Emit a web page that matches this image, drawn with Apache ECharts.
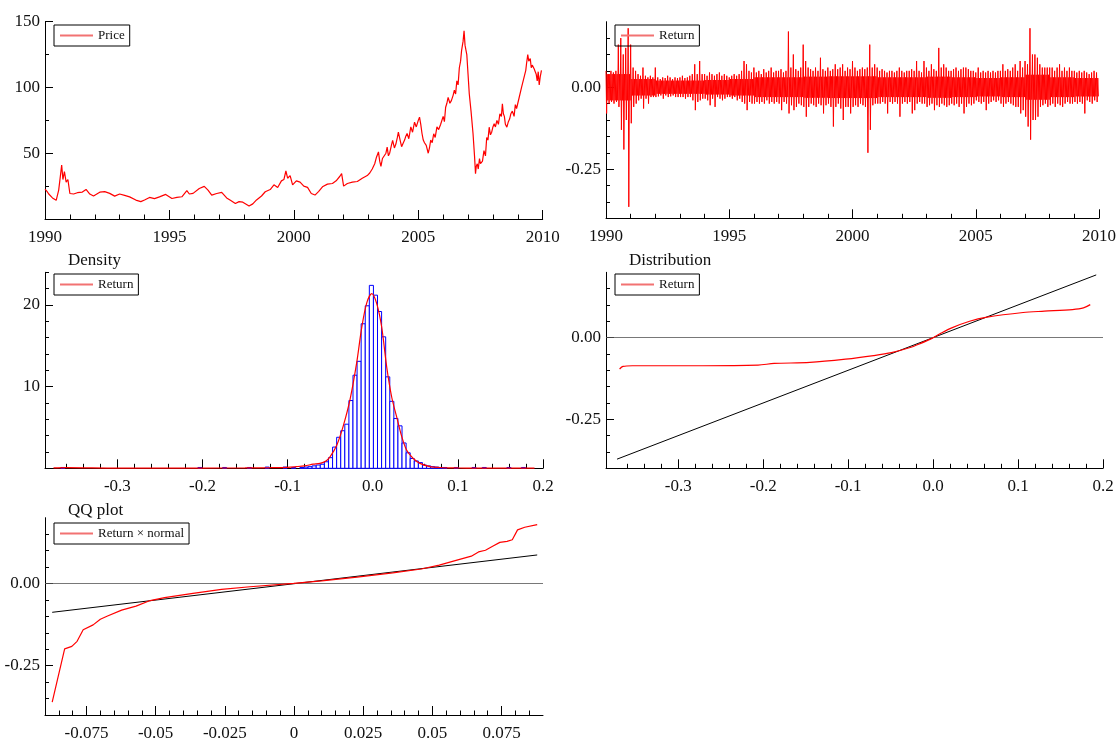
<!DOCTYPE html>
<html>
<head>
<meta charset="utf-8">
<script src="https://cdn.jsdelivr.net/npm/echarts@6/dist/echarts.min.js"></script>
<style>
html,body{margin:0;padding:0;background:#fff;}
#chart{width:1119px;height:742px;}
</style>
</head>
<body>
<div id="chart"></div>
<script>
const FONT = 'Liberation Serif';

// ---------- Price (top-left) ----------
const priceYears = [1990.00,1990.08,1990.15,1990.30,1990.45,1990.55,1990.62,1990.67,1990.72,1990.78,1990.85,1990.92,1991.00,1991.15,1991.30,1991.50,1991.65,1991.80,1991.95,1992.20,1992.40,1992.60,1992.80,1993.00,1993.20,1993.40,1993.65,1993.85,1994.00,1994.20,1994.40,1994.60,1994.85,1995.10,1995.30,1995.50,1995.70,1995.80,1995.95,1996.20,1996.40,1996.55,1996.70,1996.90,1997.10,1997.30,1997.45,1997.65,1997.80,1997.95,1998.10,1998.20,1998.35,1998.50,1998.70,1998.85,1999.05,1999.20,1999.35,1999.50,1999.60,1999.68,1999.75,1999.85,1999.95,2000.10,2000.25,2000.40,2000.55,2000.70,2000.85,2001.00,2001.15,2001.35,2001.55,2001.70,2001.85,2001.92,2002.00,2002.15,2002.35,2002.55,2002.75,2002.95,2003.05,2003.15,2003.25,2003.32,2003.40,2003.45,2003.50,2003.56,2003.62,2003.70,2003.75,2003.80,2003.85,2003.92,2003.97,2004.04,2004.10,2004.16,2004.20,2004.27,2004.33,2004.40,2004.45,2004.50,2004.55,2004.62,2004.70,2004.77,2004.85,2004.92,2005.00,2005.05,2005.10,2005.15,2005.20,2005.25,2005.32,2005.40,2005.45,2005.50,2005.56,2005.62,2005.68,2005.75,2005.82,2005.90,2006.00,2006.05,2006.10,2006.15,2006.20,2006.27,2006.33,2006.40,2006.45,2006.50,2006.55,2006.60,2006.65,2006.70,2006.74,2006.80,2006.84,2006.88,2006.95,2007.00,2007.05,2007.12,2007.20,2007.26,2007.30,2007.33,2007.37,2007.41,2007.46,2007.50,2007.58,2007.64,2007.70,2007.75,2007.80,2007.85,2007.90,2007.95,2008.00,2008.05,2008.10,2008.16,2008.22,2008.28,2008.34,2008.38,2008.42,2008.46,2008.50,2008.56,2008.62,2008.67,2008.72,2008.78,2008.85,2008.90,2008.95,2009.05,2009.15,2009.25,2009.32,2009.35,2009.40,2009.44,2009.50,2009.54,2009.58,2009.62,2009.66,2009.70,2009.74,2009.78,2009.82,2009.86,2009.90,2009.95];
const priceValues = [22.7,21,19,16,14.2,22,33,41,30,36,28,30,19.4,19,20,20.5,22.5,19,17.5,20.4,20.8,19.5,17.4,19,18,16.8,14.4,13.2,14.5,16.4,15.5,16.8,18.7,15.6,16.5,16.9,21.5,19,19.5,23.2,24.8,22,18.2,19.4,20.2,16,14.2,11.8,13.2,12.8,11,9.8,11.5,14.5,17.5,20.7,22.4,26,24,29,30,36.5,31,33,26,29,28,25,24,19.4,18.2,21,24.5,26.5,27,29,32.5,34.5,25,27,28,28.5,31,33,35,38,42,47,51,44,40,46,45,50,54.7,48,50,56,59.7,54,57,62,66,60,55,58,60,63,65,61,70,66,73.6,70,75,77.4,72,65,60,58,56,50,54,60,58,64.8,62,70,68,72,78,74,85,88,92.5,88,90,94,98,95,105,102,115,120,128,135,143,132,125,110,95,82,65,48,34.5,40,42,38,45.9,42,44,52,48,62,60,69.8,64,66,70,72.4,70,75,72,80,78,87.5,80,78,72,69.8,74,76,80,82,78,87,84,92,100,107.6,113,118,125,120,122,115,117,118,114,112,110,105,112,102,108,113,110,107];

// ---------- Return (top-right): envelope per 0.1 year, 1990.0 .. 2009.9 ----------
const RET_START = 1990, RET_STEP = 0.1;
const retHigh = [
  0.05,0.04,0.05,0.045,0.05,0.13,0.15,0.10,0.12,0.18,
  0.13,0.06,0.05,0.04,0.035,0.06,0.035,0.03,0.035,0.03,
  0.06,0.03,0.025,0.03,0.028,0.035,0.03,0.025,0.03,0.028,
  0.03,0.035,0.028,0.03,0.035,0.04,0.07,0.04,0.08,0.04,
  0.04,0.035,0.045,0.04,0.035,0.04,0.045,0.035,0.04,0.035,
  0.03,0.035,0.04,0.035,0.04,0.05,0.08,0.07,0.05,0.045,
  0.06,0.045,0.05,0.04,0.055,0.045,0.05,0.06,0.045,0.05,
  0.05,0.055,0.045,0.05,0.17,0.06,0.10,0.055,0.05,0.06,
  0.13,0.08,0.06,0.055,0.05,0.06,0.05,0.09,0.055,0.05,
  0.06,0.05,0.055,0.07,0.055,0.06,0.07,0.05,0.06,0.055,
  0.08,0.06,0.05,0.055,0.06,0.055,0.06,0.13,0.06,0.07,
  0.06,0.05,0.055,0.05,0.045,0.05,0.05,0.045,0.05,0.06,
  0.05,0.045,0.05,0.05,0.055,0.05,0.08,0.05,0.045,0.08,
  0.06,0.05,0.07,0.055,0.05,0.12,0.06,0.07,0.06,0.05,
  0.05,0.055,0.06,0.05,0.055,0.06,0.06,0.055,0.05,0.05,
  0.045,0.06,0.045,0.05,0.045,0.05,0.045,0.05,0.045,0.05,
  0.05,0.07,0.05,0.055,0.05,0.06,0.07,0.05,0.08,0.06,
  0.08,0.07,0.18,0.10,0.10,0.09,0.07,0.06,0.06,0.06,
  0.06,0.06,0.05,0.06,0.07,0.05,0.06,0.05,0.06,0.05,
  0.05,0.045,0.05,0.045,0.05,0.045,0.04,0.045,0.05,0.045];
const retLow = [
  -0.08,-0.05,-0.045,-0.05,-0.045,-0.06,-0.13,-0.19,-0.10,-0.365,
  -0.11,-0.06,-0.05,-0.04,-0.035,-0.065,-0.035,-0.05,-0.03,-0.03,
  -0.03,-0.028,-0.025,-0.035,-0.025,-0.03,-0.028,-0.025,-0.03,-0.03,
  -0.03,-0.03,-0.035,-0.03,-0.03,-0.04,-0.07,-0.045,-0.04,-0.035,
  -0.035,-0.04,-0.055,-0.035,-0.06,-0.03,-0.035,-0.04,-0.035,-0.03,
  -0.03,-0.035,-0.03,-0.04,-0.035,-0.045,-0.05,-0.07,-0.045,-0.05,
  -0.05,-0.045,-0.05,-0.045,-0.05,-0.04,-0.05,-0.045,-0.05,-0.045,
  -0.05,-0.07,-0.045,-0.05,-0.08,-0.055,-0.07,-0.06,-0.05,-0.055,
  -0.06,-0.09,-0.06,-0.05,-0.055,-0.06,-0.05,-0.055,-0.08,-0.055,
  -0.05,-0.06,-0.12,-0.06,-0.05,-0.065,-0.10,-0.06,-0.06,-0.08,
  -0.06,-0.055,-0.06,-0.05,-0.055,-0.06,-0.20,-0.13,-0.055,-0.05,
  -0.05,-0.05,-0.045,-0.05,-0.08,-0.045,-0.05,-0.045,-0.05,-0.09,
  -0.05,-0.045,-0.05,-0.045,-0.08,-0.07,-0.05,-0.045,-0.05,-0.05,
  -0.06,-0.055,-0.05,-0.07,-0.055,-0.06,-0.05,-0.055,-0.06,-0.055,
  -0.05,-0.055,-0.05,-0.06,-0.05,-0.08,-0.06,-0.05,-0.055,-0.05,
  -0.04,-0.045,-0.05,-0.045,-0.07,-0.05,-0.045,-0.04,-0.045,-0.04,
  -0.05,-0.06,-0.05,-0.045,-0.05,-0.055,-0.06,-0.06,-0.08,-0.07,
  -0.09,-0.12,-0.16,-0.10,-0.10,-0.09,-0.06,-0.055,-0.05,-0.06,
  -0.055,-0.05,-0.06,-0.05,-0.055,-0.06,-0.05,-0.045,-0.05,-0.05,
  -0.045,-0.05,-0.045,-0.05,-0.08,-0.04,-0.045,-0.05,-0.04,-0.045];
// dense core of the band, per year 1990 .. 2009
const retCoreHigh = [0.04,0.025,0.02,0.02,0.022,0.025,0.03,0.03,0.032,0.033,0.033,0.03,0.03,0.032,0.03,0.028,0.03,0.038,0.03,0.028];
const retCoreLow = [-0.04,-0.025,-0.02,-0.02,-0.022,-0.025,-0.03,-0.03,-0.032,-0.033,-0.033,-0.03,-0.03,-0.032,-0.03,-0.028,-0.03,-0.038,-0.03,-0.028];

// ---------- Density (middle-left) ----------
const HIST_BIN = 0.0048;
const histCenters = [-0.364,-0.203,-0.174,-0.145,-0.124,-0.103,-0.093,
  -0.0832,-0.0784,-0.0736,-0.0688,-0.064,-0.0592,-0.0544,-0.0496,-0.0448,-0.04,-0.0352,-0.0304,-0.0256,-0.0208,-0.016,-0.0112,-0.0064,-0.0016,
  0.0032,0.008,0.0128,0.0176,0.0224,0.0272,0.032,0.0368,0.0416,0.0464,0.0512,0.056,0.0608,0.0656,0.0704,0.0752,0.08,0.0848,
  0.098,0.119,0.131,0.16,0.177];
const histHeights = [0.1,0.1,0.1,0.1,0.15,0.15,0.1,
  0.1,0.15,0.2,0.3,0.4,0.5,0.8,1.3,2.6,3.8,4.6,5.4,8.3,11.4,13.1,17.7,19.9,22.4,
  21.2,19.2,16.1,11.2,8.2,6.1,5.2,3.1,1.9,1.2,0.9,0.7,0.4,0.3,0.2,0.15,0.1,0.1,
  0.1,0.1,0.1,0.1,0.1];
const kdeX = [-0.375,-0.36,-0.3,-0.2,-0.15,-0.12,-0.1,-0.09,-0.08,-0.07,-0.062,-0.055,-0.0502,-0.0424,-0.0346,-0.0267,-0.0189,-0.013,-0.0072,-0.0012,0.0046,0.0105,0.0164,0.0223,0.0281,0.034,0.0399,0.0476,0.0555,0.0673,0.079,0.09,0.1,0.12,0.15,0.19];
const kdeY = [0.05,0.08,0.01,0.03,0.05,0.08,0.12,0.2,0.3,0.5,0.6,0.9,1.4,2.8,5.2,8.4,12.9,17.2,20.2,21.4,20.2,17.3,12.4,8.7,6.3,3.9,2.2,1.2,0.6,0.2,0.1,0.06,0.04,0.03,0.02,0.02];

// ---------- Distribution (middle-right) ----------
const distX = [-0.369,-0.365,-0.354,-0.271,-0.206,-0.187,-0.145,-0.103,-0.07,-0.049,-0.028,-0.016,-0.002,0.0096,0.022,0.043,0.062,0.106,0.131,0.164,0.177,0.185];
const distY = [-0.096,-0.088,-0.086,-0.086,-0.084,-0.079,-0.076,-0.066,-0.055,-0.046,-0.031,-0.019,-0.003,0.014,0.030,0.050,0.062,0.077,0.081,0.086,0.091,0.101];
const distRefX = [-0.372, 0.192];
const distRefY = [-0.372, 0.192];

// ---------- QQ plot (bottom-left) ----------
const qqX = [-0.0874,-0.0829,-0.0803,-0.0784,-0.0762,-0.0726,-0.07,-0.0674,-0.0623,-0.0571,-0.052,-0.0468,-0.0365,-0.0262,-0.0159,-0.0001,0.01,0.0228,0.0357,0.046,0.0525,0.0589,0.0641,0.0667,0.0692,0.0718,0.0744,0.077,0.0789,0.0808,0.0834,0.0879];
const qqY = [-0.361,-0.199,-0.1915,-0.176,-0.141,-0.126,-0.109,-0.099,-0.081,-0.069,-0.052,-0.043,-0.030,-0.018,-0.010,0,0.008,0.019,0.032,0.044,0.056,0.071,0.083,0.096,0.101,0.113,0.125,0.128,0.133,0.163,0.171,0.179];
const qqRefX = [-0.0874, 0.0879];
const qqRefY = [-0.0877, 0.0867];

// ---------- tick labels ----------
const yearLabels = [1990,1995,2000,2005,2010];
const yearMinor = [1991,1992,1993,1994,1996,1997,1998,1999,2001,2002,2003,2004,2006,2007,2008,2009];
const priceLabels = [50,100,150];
const priceMinor = [25,75,125];
const retLabels = [-0.25,0];
const retMinor = [-0.35,-0.3,-0.2,-0.15,-0.1,-0.05,0.05,0.1,0.15];
const densXLabels = [-0.3,-0.2,-0.1,0,0.1,0.2];
const densXMinor = [-0.36,-0.34,-0.32,-0.28,-0.26,-0.24,-0.22,-0.18,-0.16,-0.14,-0.12,-0.08,-0.06,-0.04,-0.02,0.02,0.04,0.06,0.08,0.12,0.14,0.16,0.18];
const densYLabels = [10,20];
const densYMinor = [2,4,6,8,12,14,16,18,22,24];
const qqXLabels = [-0.075,-0.05,-0.025,0,0.025,0.05,0.075];
const qqXMinor = [-0.085,-0.08,-0.07,-0.065,-0.06,-0.055,-0.045,-0.04,-0.035,-0.03,-0.02,-0.015,-0.01,-0.005,0.005,0.01,0.015,0.02,0.03,0.035,0.04,0.045,0.055,0.06,0.065,0.07,0.08,0.085];

// ---------- helpers ----------
const labelStyle = {fontFamily: FONT, fontSize: 17, color: '#111'};
function axisPair(dim, grid, min, max, labels, minors, fmt) {
  const isX = dim === 'x';
  const pos = isX ? 'bottom' : 'left';
  const main = {
    type: 'value', gridIndex: grid, min: min, max: max, position: pos,
    axisLine: {show: true, onZero: false, lineStyle: {color: '#000', width: 1}},
    axisTick: {show: true, inside: true, length: isX ? 9 : 8, customValues: labels, lineStyle: {color: '#000', width: 1}},
    axisLabel: Object.assign({show: true, customValues: labels, formatter: fmt, margin: isX ? 10 : 5}, labelStyle),
    splitLine: {show: false}
  };
  const minor = {
    type: 'value', gridIndex: grid, min: min, max: max, position: pos,
    axisLine: {show: false, onZero: false},
    axisTick: {show: true, inside: true, length: isX ? 4.5 : 4, customValues: minors, lineStyle: {color: '#000', width: 1}},
    axisLabel: {show: false},
    splitLine: {show: false}
  };
  return [main, minor];
}
const fmtInt = v => String(Math.round(v));
const fmt2 = v => (Math.abs(v) < 1e-9 ? 0 : v).toFixed(2);
const fmt1 = v => (Math.abs(v) < 1e-9 ? 0 : v).toFixed(1);
const fmtQQ = v => String(+v.toFixed(3));

const grids = [
  {left: 45, top: 21.7, width: 497.7, height: 197.3},
  {left: 606, top: 21.7, width: 497, height: 196.6},
  {left: 45, top: 272.3, width: 498, height: 196},
  {left: 606, top: 272.3, width: 497, height: 196},
  {left: 45, top: 517.7, width: 498, height: 199}
];

const xAxis = [].concat(
  axisPair('x', 0, 1990, 2010, yearLabels, yearMinor, fmtInt),
  axisPair('x', 1, 1990, 2010, yearLabels, yearMinor, fmtInt),
  axisPair('x', 2, -0.385, 0.2, densXLabels, densXMinor, fmt1),
  axisPair('x', 3, -0.385, 0.2, densXLabels, densXMinor, fmt1),
  axisPair('x', 4, -0.09, 0.09, qqXLabels, qqXMinor, fmtQQ)
);
const yAxis = [].concat(
  axisPair('y', 0, 0, 150, priceLabels, priceMinor, fmtInt),
  axisPair('y', 1, -0.4, 0.2, retLabels, retMinor, fmt2),
  axisPair('y', 2, 0, 24, densYLabels, densYMinor, fmtInt),
  axisPair('y', 3, -0.4, 0.2, retLabels, retMinor, fmt2),
  axisPair('y', 4, -0.4, 0.2, retLabels, retMinor, fmt2)
);

const zip = (a, b) => a.map((v, i) => [v, b[i]]);
const retData = [];
retHigh.forEach((h, i) => {
  const t = RET_START + i * RET_STEP;
  const yr = Math.floor(i / 10);
  retData.push([t, h]);
  retData.push([t + RET_STEP * 0.25, retLow[i]]);
  retData.push([t + RET_STEP * 0.5, retCoreHigh[yr]]);
  retData.push([t + RET_STEP * 0.75, retCoreLow[yr]]);
});

const RED = '#ff0000';
function zeroLine() {
  return {
    silent: true, symbol: ['none', 'none'], label: {show: false},
    itemStyle: {color: '#555'},
    lineStyle: {color: '#555', width: 0.8, type: 'solid'},
    emphasis: {disabled: true},
    data: [{yAxis: 0}]
  };
}

const series = [
  {name: 'Price', type: 'line', xAxisIndex: 0, yAxisIndex: 0, data: zip(priceYears, priceValues),
   showSymbol: false, symbol: 'none', lineStyle: {color: RED, width: 1.2}, itemStyle: {color: RED}, animation: false},
  {name: 'Return', type: 'line', xAxisIndex: 2, yAxisIndex: 2, data: retData,
   showSymbol: false, symbol: 'none', sampling: null, lineStyle: {color: RED, width: 1}, itemStyle: {color: RED}, animation: false},
  {name: 'hist', type: 'custom', xAxisIndex: 4, yAxisIndex: 4, animation: false,
   data: zip(histCenters, histHeights),
   renderItem: function (params, api) {
     const c = api.value(0), h = api.value(1);
     const p0 = api.coord([c - HIST_BIN / 2, h]);
     const p1 = api.coord([c + HIST_BIN / 2, 0]);
     return {type: 'rect', shape: {x: p0[0], y: p0[1], width: p1[0] - p0[0], height: p1[1] - p0[1]},
             style: {fill: '#fff', stroke: '#0000ff', lineWidth: 1}};
   }},
  {name: 'Return', type: 'line', xAxisIndex: 4, yAxisIndex: 4, data: zip(kdeX, kdeY), smooth: 0.3,
   showSymbol: false, symbol: 'none', lineStyle: {color: RED, width: 1.2}, itemStyle: {color: RED}, animation: false, z: 5},
  {name: 'ref4', type: 'line', xAxisIndex: 6, yAxisIndex: 6, data: zip(distRefX, distRefY),
   showSymbol: false, symbol: 'none', lineStyle: {color: '#000', width: 1}, itemStyle: {color: '#000'}, animation: false, markLine: zeroLine()},
  {name: 'Return', type: 'line', xAxisIndex: 6, yAxisIndex: 6, data: zip(distX, distY), smooth: 0.3,
   showSymbol: false, symbol: 'none', lineStyle: {color: RED, width: 1.2}, itemStyle: {color: RED}, animation: false, z: 5},
  {name: 'ref5', type: 'line', xAxisIndex: 8, yAxisIndex: 8, data: zip(qqRefX, qqRefY),
   showSymbol: false, symbol: 'none', lineStyle: {color: '#000', width: 1}, itemStyle: {color: '#000'}, animation: false, markLine: zeroLine()},
  {name: 'Return × normal', type: 'line', xAxisIndex: 8, yAxisIndex: 8, data: zip(qqX, qqY),
   showSymbol: false, symbol: 'none', lineStyle: {color: RED, width: 1.2}, itemStyle: {color: RED}, animation: false, z: 5}
];

function legendAt(name, left, top) {
  return {
    data: [name], left: left, top: top, orient: 'horizontal', selectedMode: false,
    padding: [4, 5, 4, 6], borderColor: '#000', borderWidth: 1, borderRadius: 0,
    icon: 'rect', itemWidth: 33, itemHeight: 2, itemGap: 0,
    itemStyle: {color: '#f27272', borderWidth: 0},
    textStyle: {fontFamily: FONT, fontSize: 13, color: '#111'}
  };
}
function titleAt(text, left, top) {
  return {text: text, left: left, top: top, padding: 0,
          textStyle: {fontFamily: FONT, fontSize: 17, fontWeight: 'normal', color: '#111'}};
}

const option = {
  backgroundColor: '#fff',
  animation: false,
  textStyle: {fontFamily: FONT},
  grid: grids,
  xAxis: xAxis,
  yAxis: yAxis,
  title: [titleAt('Density', 68, 252), titleAt('Distribution', 629, 252), titleAt('QQ plot', 68, 502)],
  legend: [legendAt('Price', 54, 25), legendAt('Return', 615, 25), legendAt('Return', 54, 274),
           legendAt('Return', 615, 274), legendAt('Return × normal', 54, 523)],
  series: series
};

const chart = echarts.init(document.getElementById('chart'), null, {renderer: 'canvas'});
chart.setOption(option);
</script>
</body>
</html>
